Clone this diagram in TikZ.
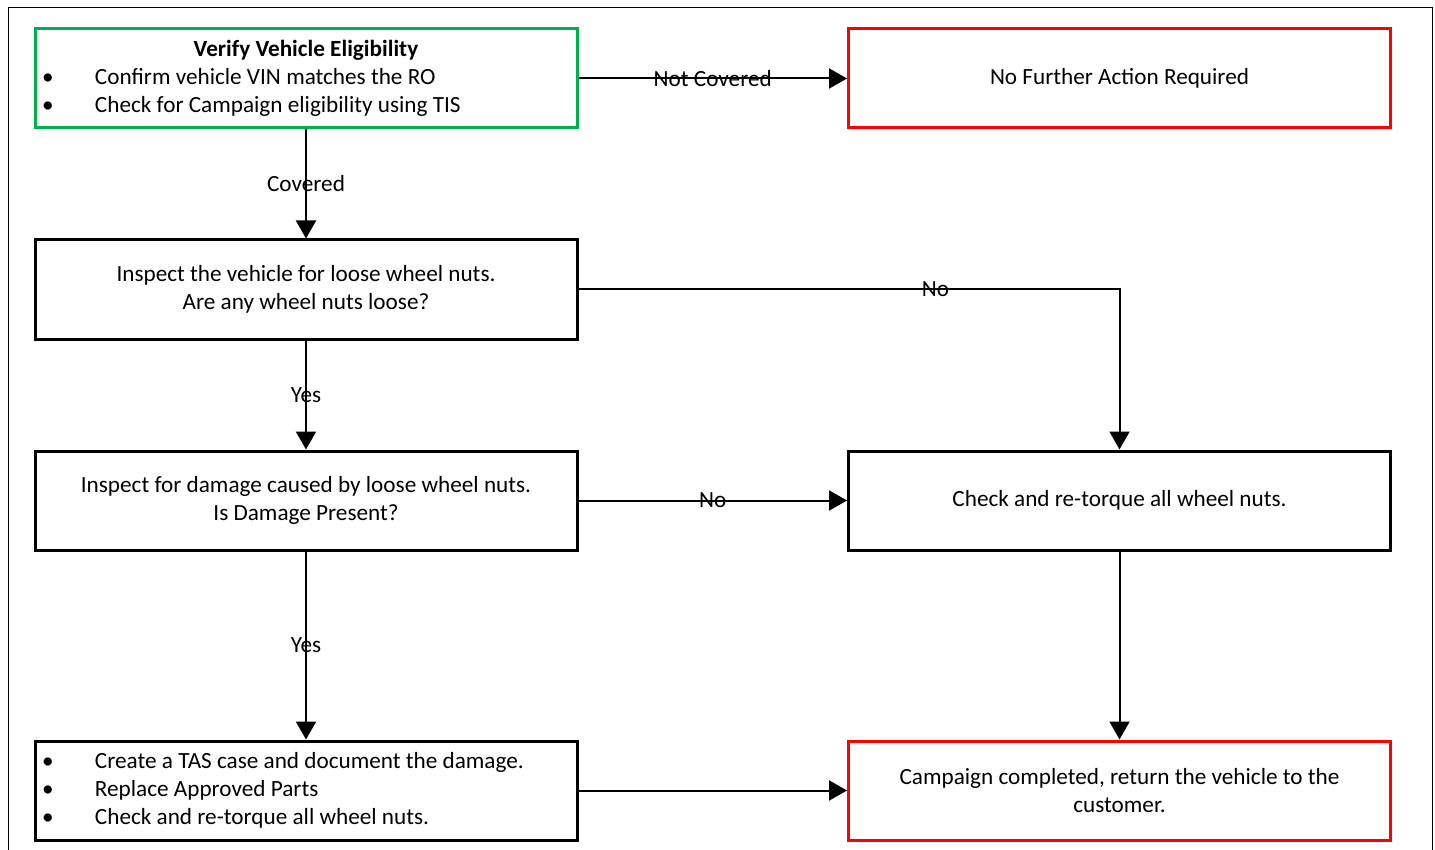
\documentclass[tikz,border=0pt]{standalone}
\usepackage{fontspec}
\setmainfont{Carlito}
\usetikzlibrary{arrows.meta}
\definecolor{okc}{RGB}{0,176,80}
\definecolor{endc}{RGB}{255,0,0}

\begin{document}
\begin{tikzpicture}[node distance=406.75pt, box/.style={rectangle, draw, line width=1.5pt, minimum width=271pt, minimum height=49.5pt, inner sep=0pt, align=center}, listbox/.style={box, inner xsep=3.5pt, text width=264pt, align=flush left}, arr/.style={-{Triangle[length=9pt, width=10pt]}, line width=1pt}, every node/.style={font=\fontsize{11.6}{14}\selectfont}]

    \useasboundingbox (0,0) rectangle (717.5pt,-425pt);
    \draw[line width=0.5pt] (4pt,-3.75pt) rectangle (716pt,-440pt);

    \node[listbox, draw=okc] (verify) at (153pt,-39.25pt) {\makebox[264pt]{\bfseries Verify Vehicle Eligibility}\\
      \makebox[26.5pt][l]{\textbullet}Confirm vehicle VIN matches the RO\\
      \makebox[26.5pt][l]{\textbullet}Check for Campaign eligibility using TIS};
    \node[box, draw=endc, right of=verify] (nofurther) {No Further Action Required};
    \node[box, below of=verify, node distance=105.5pt] (inspect) {Inspect the vehicle for loose wheel nuts.\\Are any wheel nuts loose?};
    \node[box, below of=inspect, node distance=105.5pt] (damage) {Inspect for damage caused by loose wheel nuts.\\Is Damage Present?};
    \node[box, right of=damage] (retorque) {Check and re-torque all wheel nuts.};
    \node[listbox, below of=damage, node distance=145pt] (repair) {\makebox[26.5pt][l]{\textbullet}Create a TAS case and document the damage.\\
      \makebox[26.5pt][l]{\textbullet}Replace Approved Parts\\
      \makebox[26.5pt][l]{\textbullet}Check and re-torque all wheel nuts.};
    \node[box, draw=endc, right of=repair] (done) {Campaign completed, return the vehicle to the\\customer.};

    \draw[arr] (verify) -- node {Not Covered} (nofurther);
    \draw[arr] (verify) -- node {Covered} (inspect);
    \draw[arr] (inspect) -| node[pos=0.33] {No} (retorque);
    \draw[arr] (inspect) -- node {Yes} (damage);
    \draw[arr] (damage) -- node {No} (retorque);
    \draw[arr] (damage) -- node {Yes} (repair);
    \draw[arr] (retorque) -- (done);
    \draw[arr] (repair) -- (done);

\end{tikzpicture}
\end{document}
